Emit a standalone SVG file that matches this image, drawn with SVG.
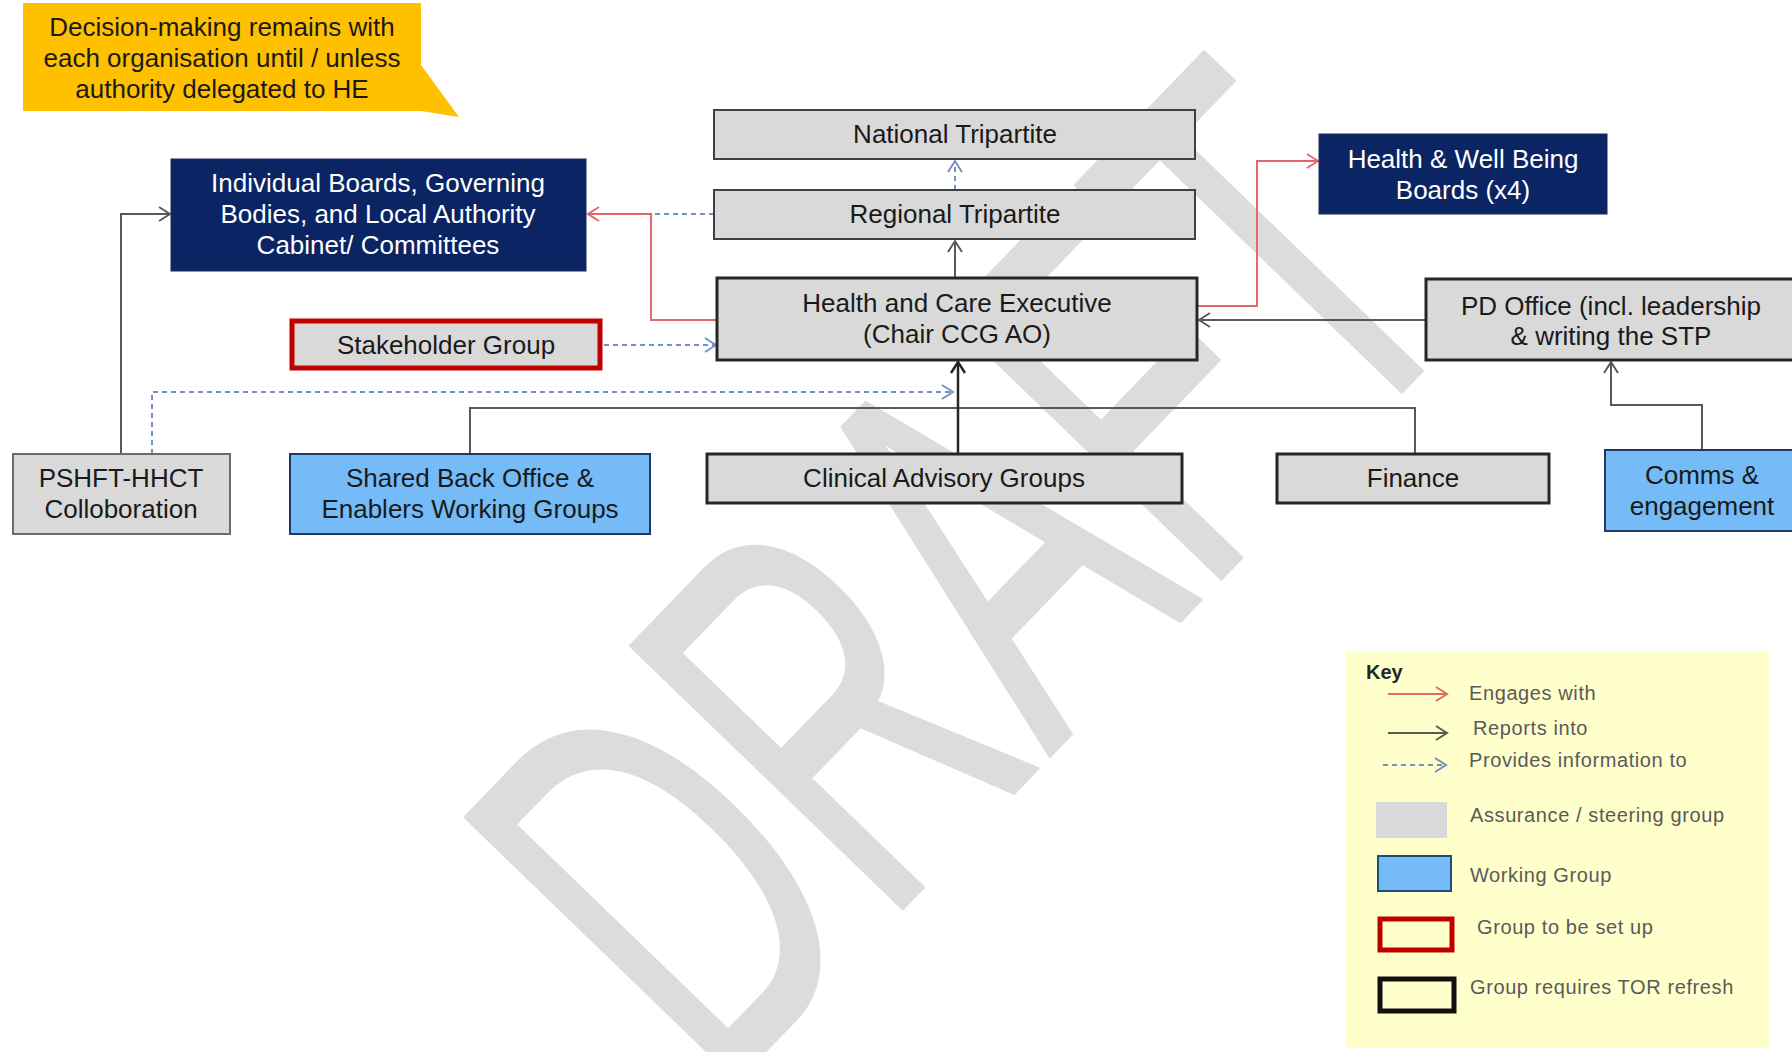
<svg xmlns="http://www.w3.org/2000/svg" width="1792" height="1052" viewBox="0 0 1792 1052">
<defs>
<style>
.t{font-family:"Liberation Sans",Arial,sans-serif;font-size:26px;text-anchor:middle;fill:#1a1a1a}
.tw{fill:#ffffff}
.box{fill:#D9D9D9;stroke:#404040;stroke-width:2}
.dk{stroke:#262626;stroke-width:3}
.navy{fill:#0B2463;stroke:#1a2a55;stroke-width:1}
.wg{fill:#74BBF7;stroke:#1F3864;stroke-width:2}
.ln{fill:none}
.red{stroke:#E06A6A;stroke-width:2}
.gray{stroke:#595959;stroke-width:2}
.dark{stroke:#262626;stroke-width:2.5}
.blue{stroke:#7391C2;stroke-width:2;stroke-dasharray:5 4}
.k{font-family:"Liberation Sans",Arial,sans-serif;font-size:20px;fill:#5a5a5a;letter-spacing:0.6px}
.wm{font-family:"Liberation Sans",Arial,sans-serif;font-size:550px;fill:#DCDCDC;stroke:#DCDCDC;stroke-width:3;stroke-linejoin:round}
</style>
<marker id="mr" markerUnits="userSpaceOnUse" markerWidth="16" markerHeight="18" refX="13" refY="9" orient="auto"><path d="M2,2 L13,9 L2,16" fill="none" stroke="#E06A6A" stroke-width="2"/></marker>
<marker id="mg" markerUnits="userSpaceOnUse" markerWidth="16" markerHeight="18" refX="13" refY="9" orient="auto"><path d="M2,2 L13,9 L2,16" fill="none" stroke="#595959" stroke-width="2"/></marker>
<marker id="md" markerUnits="userSpaceOnUse" markerWidth="16" markerHeight="18" refX="13" refY="9" orient="auto"><path d="M2,2 L13,9 L2,16" fill="none" stroke="#262626" stroke-width="2.5"/></marker>
<marker id="mb" markerUnits="userSpaceOnUse" markerWidth="16" markerHeight="18" refX="13" refY="9" orient="auto"><path d="M2,2 L13,9 L2,16" fill="none" stroke="#7391C2" stroke-width="2"/></marker>
</defs>
<rect x="0" y="0" width="1792" height="1052" fill="#ffffff"/>

<g id="watermark">
<text class="wm" transform="translate(718,1100) rotate(-46) scale(0.6,1)" x="0" y="0">DRAFT</text>
</g>

<g id="connectors">
<line class="ln blue" x1="955" y1="190" x2="955" y2="161" marker-end="url(#mb)"/>
<line class="ln gray" x1="955" y1="278" x2="955" y2="241" marker-end="url(#mg)"/>
<path class="ln blue" d="M714,214 H651"/>
<path class="ln red" d="M717,320 H651 V214 H588" marker-end="url(#mr)"/>
<path class="ln red" d="M1197,306 H1257 V161 H1318" marker-end="url(#mr)"/>
<path class="ln gray" d="M1426,320 H1199" marker-end="url(#mg)"/>
<path class="ln blue" d="M604,345 H716" marker-end="url(#mb)"/>
<path class="ln blue" d="M152,454 V392 H953" marker-end="url(#mb)"/>
<path class="ln gray" d="M121,454 V214 H170" marker-end="url(#mg)"/>
<path class="ln gray" d="M470,454 V408 H1415 V454"/>
<path class="ln dark" d="M958,454 V362" marker-end="url(#md)"/>
<path class="ln gray" d="M1702,450 V405 H1611 V362" marker-end="url(#mg)"/>
</g>

<g id="callout">
<polygon points="23,3 421,3 421,65 459,117 421,111 23,111" fill="#FFC000"/>
<text class="t" x="222" y="36">Decision-making remains with</text>
<text class="t" x="222" y="67">each organisation until / unless</text>
<text class="t" x="222" y="98">authority delegated to HE</text>
</g>

<g id="national">
<rect class="box" x="714" y="110" width="481" height="49"/>
<text class="t" x="955" y="143">National Tripartite</text>
</g>

<g id="regional">
<rect class="box" x="714" y="190" width="481" height="49"/>
<text class="t" x="955" y="223">Regional Tripartite</text>
</g>

<g id="hce">
<rect class="box dk" x="717" y="278" width="480" height="82"/>
<text class="t" x="957" y="312">Health and Care Executive</text>
<text class="t" x="957" y="343">(Chair CCG AO)</text>
</g>

<g id="boards">
<rect class="navy" x="171" y="159" width="415" height="112"/>
<text class="t tw" x="378" y="192">Individual Boards, Governing</text>
<text class="t tw" x="378" y="223">Bodies, and Local Authority</text>
<text class="t tw" x="378" y="254">Cabinet/ Committees</text>
</g>

<g id="hwb">
<rect class="navy" x="1319" y="134" width="288" height="80"/>
<text class="t tw" x="1463" y="168">Health &amp; Well Being</text>
<text class="t tw" x="1463" y="199">Boards (x4)</text>
</g>

<g id="pdoffice">
<rect class="box dk" x="1426" y="279" width="380" height="81"/>
<text class="t" x="1611" y="315">PD Office (incl. leadership</text>
<text class="t" x="1611" y="345">&amp; writing the STP</text>
</g>

<g id="stakeholder">
<rect x="292" y="321" width="308" height="47" fill="#D9D9D9" stroke="#C00000" stroke-width="5"/>
<text class="t" x="446" y="354">Stakeholder Group</text>
</g>

<g id="pshft">
<rect x="13" y="454" width="217" height="80" fill="#D9D9D9" stroke="#6b6b6b" stroke-width="2"/>
<text class="t" x="121" y="487">PSHFT-HHCT</text>
<text class="t" x="121" y="518">Colloboration</text>
</g>

<g id="shared">
<rect class="wg" x="290" y="454" width="360" height="80"/>
<text class="t" x="470" y="487">Shared Back Office &amp;</text>
<text class="t" x="470" y="518">Enablers Working Groups</text>
</g>

<g id="clinical">
<rect class="box dk" x="707" y="454" width="475" height="49"/>
<text class="t" x="944" y="487">Clinical Advisory Groups</text>
</g>

<g id="finance">
<rect class="box dk" x="1277" y="454" width="272" height="49"/>
<text class="t" x="1413" y="487">Finance</text>
</g>

<g id="comms">
<rect class="wg" x="1605" y="450" width="200" height="81"/>
<text class="t" x="1702" y="484">Comms &amp;</text>
<text class="t" x="1702" y="515">engagement</text>
</g>

<g id="key">
<rect x="1346" y="651" width="423" height="397" fill="#FFFFCC"/>
<text x="1366" y="679" font-family="Liberation Sans, Arial, sans-serif" font-size="20" font-weight="bold" fill="#262626">Key</text>
<line class="ln red" x1="1388" y1="694" x2="1447" y2="694" marker-end="url(#mr)"/>
<text class="k" x="1469" y="700">Engages with</text>
<line class="ln gray" x1="1388" y1="733" x2="1447" y2="733" marker-end="url(#mg)"/>
<text class="k" x="1473" y="735">Reports into</text>
<line class="ln blue" x1="1383" y1="765" x2="1446" y2="765" marker-end="url(#mb)"/>
<text class="k" x="1469" y="767">Provides information to</text>
<rect x="1376" y="802" width="71" height="36" fill="#D9D9D9"/>
<text class="k" x="1470" y="822">Assurance / steering group</text>
<rect x="1378" y="856" width="73" height="35" fill="#74BBF7" stroke="#1F4E79" stroke-width="2"/>
<text class="k" x="1470" y="882">Working Group</text>
<rect x="1380" y="919" width="72" height="31" fill="#FFFFCC" stroke="#C00000" stroke-width="5"/>
<text class="k" x="1477" y="934">Group to be set up</text>
<rect x="1380" y="979" width="74" height="32" fill="#FFFFCC" stroke="#111111" stroke-width="5"/>
<text class="k" x="1470" y="994">Group requires TOR refresh</text>
</g>
</svg>
